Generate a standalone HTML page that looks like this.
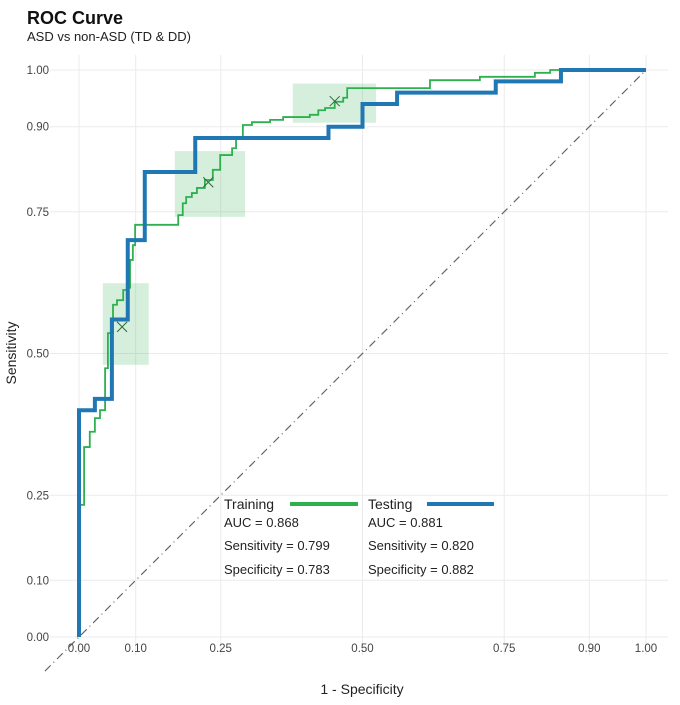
<!DOCTYPE html>
<html><head><meta charset="utf-8"><style>
body{margin:0;background:#fff;font-family:"Liberation Sans",sans-serif}
svg text{font-family:"Liberation Sans",sans-serif}
</style></head><body>
<svg id="chart" width="680" height="700" xmlns="http://www.w3.org/2000/svg">
<text x="27" y="24" font-size="18" font-weight="bold" fill="#111">ROC Curve</text>
<text x="27" y="41" font-size="13" fill="#222">ASD vs non-ASD (TD &amp; DD)</text>
<g id="grid"></g><g id="rects"></g><g id="lines"></g><g id="axes"></g>
<text x="362" y="694" font-size="14" text-anchor="middle" fill="#222">1 - Specificity</text>
<text x="0" y="0" font-size="14" text-anchor="middle" fill="#222" transform="translate(16,353) rotate(-90)">Sensitivity</text>
<g font-size="13" fill="#222">
<text x="224" y="509" font-size="14">Training</text>
<line x1="290" y1="504" x2="358" y2="504" stroke="#2eb04f" stroke-width="4"/>
<text x="368" y="509" font-size="14">Testing</text>
<line x1="427" y1="504" x2="494" y2="504" stroke="#1f77b4" stroke-width="4"/>
<text x="224" y="527">AUC = 0.868</text>
<text x="224" y="550">Sensitivity = 0.799</text>
<text x="224" y="574">Specificity = 0.783</text>
<text x="368" y="527">AUC = 0.881</text>
<text x="368" y="550">Sensitivity = 0.820</text>
<text x="368" y="574">Specificity = 0.882</text>
</g>
</svg>
<script>
const ticks=[0,0.1,0.25,0.5,0.75,0.9,1];
const tickLabels=["0.00","0.10","0.25","0.50","0.75","0.90","1.00"];
const fprTrain=[0,.002,.009,.019,.028,.037,.046,.051,.060,.067,.078,.086,.090,.095,.099,.175,.183,.189,.199,.208,.222,.236,.249,.270,.277,.289,.305,.337,.360,.407,.422,.434,.451,.466,.473,.619,.707,.804,.831,1];
const tprTrain=[.021,.233,.335,.362,.386,.400,.474,.536,.586,.594,.612,.616,.665,.691,.727,.744,.765,.776,.783,.792,.806,.824,.850,.862,.880,.903,.908,.912,.917,.921,.929,.933,.944,.951,.968,.982,.988,.995,1,1];
const fprTest=[0,.028,.058,.086,.116,.205,.44,.50,.561,.735,.85,1];
const tprTest=[.40,.42,.56,.70,.82,.88,.90,.94,.96,.98,1,1];
const ciFpr=[[.042,.123],[.169,.293],[.377,.524]];
const ciTpr=[[.480,.624],[.741,.857],[.907,.976]];
const markFpr=[.076,.228,.451];
const markTpr=[.547,.802,.945];
const NS="http://www.w3.org/2000/svg";
const X=v=>79+567*v, Y=v=>637-567*v;
function mk(p,t,a){const e=document.createElementNS(NS,t);for(const k in a)e.setAttribute(k,a[k]);p.appendChild(e);return e;}
const grid=document.getElementById('grid'),axes=document.getElementById('axes'),rects=document.getElementById('rects'),lines=document.getElementById('lines');
ticks.forEach((t,i)=>{
 let g=mk(grid,'line',{x1:X(t),x2:X(t),y1:55,y2:655,stroke:'#ebebeb','stroke-width':1});
 
 
 g=mk(grid,'line',{x1:50,x2:668,y1:Y(t),y2:Y(t),stroke:'#ebebeb','stroke-width':1});
 
 
 let tx=mk(axes,'text',{x:X(t),y:652,'font-size':11.5,'text-anchor':'middle',fill:'#444'});tx.textContent=tickLabels[i];
 
 
 tx=mk(axes,'text',{x:49,y:Y(t)+4,'font-size':11.5,'text-anchor':'end',fill:'#444'});tx.textContent=tickLabels[i];
 
 
});
ciFpr.forEach((f,i)=>{
 const r=mk(rects,'rect',{x:X(f[0]),y:Y(ciTpr[i][1]),width:X(f[1])-X(f[0]),height:Y(ciTpr[i][0])-Y(ciTpr[i][1]),fill:'#2eb04f','fill-opacity':0.2});
 
 
});
let d=mk(lines,'line',{x1:X(-0.06),y1:Y(-0.06),x2:X(1),y2:Y(1),stroke:'#666','stroke-width':1.2,'stroke-dasharray':'8 4 1 4'});


function step(fx,ty){let p='M'+X(0)+','+Y(0);fx.forEach((f,i)=>{p+=' H'+X(f)+' V'+Y(ty[i]);});return p;}
let pt=mk(lines,'path',{d:step(fprTrain,tprTrain),fill:'none',stroke:'#2eb04f','stroke-width':1.8});


let pb=mk(lines,'path',{d:step(fprTest,tprTest),fill:'none',stroke:'#1f77b4','stroke-width':4});


markFpr.forEach((f,i)=>{
 const x=X(f),y=Y(markTpr[i]);
 const m=mk(lines,'path',{d:`M${x-5},${y-5}L${x+5},${y+5}M${x-5},${y+5}L${x+5},${y-5}`,stroke:'#2a6b3a','stroke-width':1});
 
 
});
</script>
</body></html>
